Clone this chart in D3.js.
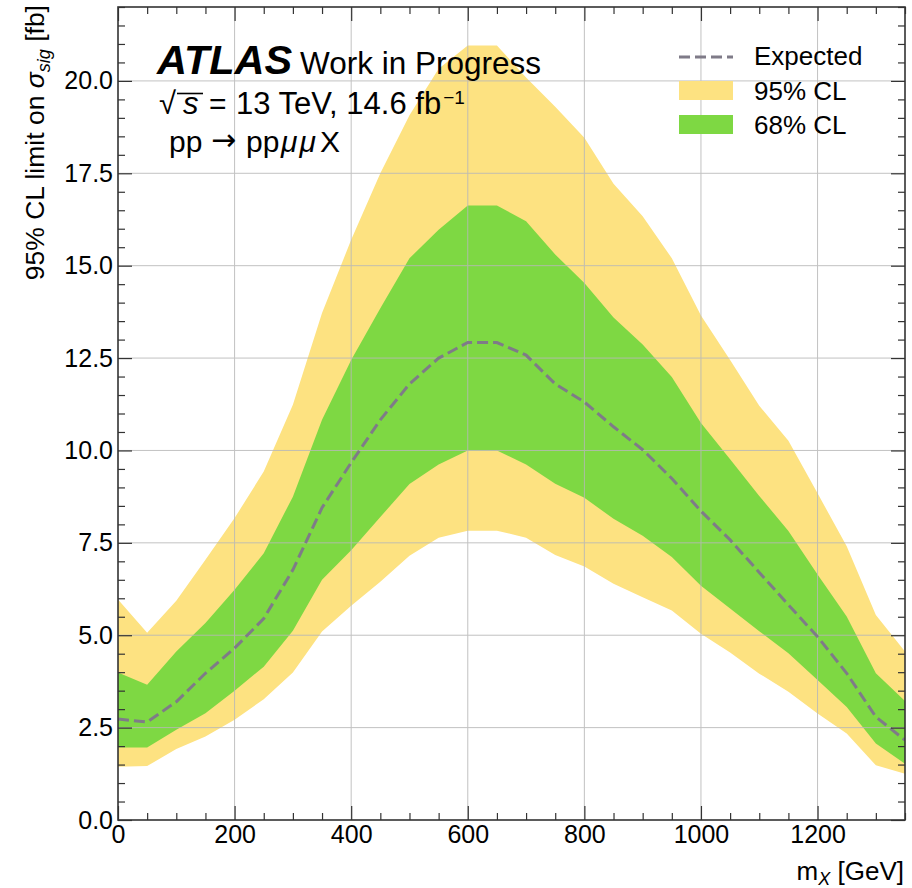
<!DOCTYPE html>
<html>
<head>
<meta charset="utf-8">
<script src="https://cdn.jsdelivr.net/npm/d3@7"></script>
<style>
  body { margin: 0; background: #fff; }
  text { font-family: "Liberation Sans", Arial, Helvetica, sans-serif; fill: #000; }
</style>
</head>
<body>
<div id="chart"></div>
<script>
// ── Data ──
const massX   = [0, 50, 100, 150, 200, 250, 300, 350, 400, 450, 500, 550, 600, 650, 700, 750, 800, 850, 900, 950, 1000, 1050, 1100, 1150, 1200, 1250, 1300, 1350];
const hi95    = [5.97, 5.07, 5.93, 7.04, 8.17, 9.43, 11.24, 13.72, 15.7, 17.5, 19.07, 20.33, 20.96, 20.96, 20.09, 19.3, 18.46, 17.22, 16.34, 15.2, 13.65, 12.45, 11.21, 10.26, 8.84, 7.41, 5.55, 4.56];
const hi68    = [3.99, 3.66, 4.56, 5.33, 6.23, 7.22, 8.75, 10.83, 12.45, 13.85, 15.2, 15.97, 16.63, 16.63, 16.2, 15.3, 14.53, 13.6, 12.87, 11.99, 10.74, 9.76, 8.77, 7.82, 6.64, 5.51, 3.97, 3.22];
const expected= [2.73, 2.65, 3.2, 3.97, 4.65, 5.45, 6.77, 8.45, 9.67, 10.83, 11.8, 12.5, 12.92, 12.92, 12.58, 11.8, 11.31, 10.64, 10.02, 9.24, 8.36, 7.58, 6.7, 5.82, 4.96, 3.97, 2.79, 2.16];
const lo68    = [1.96, 1.96, 2.44, 2.89, 3.5, 4.15, 5.12, 6.5, 7.3, 8.2, 9.09, 9.62, 10.0, 10.0, 9.62, 9.1, 8.72, 8.15, 7.69, 7.12, 6.34, 5.72, 5.11, 4.51, 3.79, 3.06, 2.07, 1.52];
const lo95    = [1.44, 1.46, 1.92, 2.26, 2.71, 3.27, 3.99, 5.1, 5.8, 6.45, 7.15, 7.64, 7.83, 7.83, 7.64, 7.17, 6.86, 6.39, 6.03, 5.67, 5.04, 4.53, 3.96, 3.47, 2.88, 2.34, 1.48, 1.25];

const xTicks = [0, 200, 400, 600, 800, 1000, 1200];
const yTicks = [0, 2.5, 5, 7.5, 10, 12.5, 15, 17.5, 20];
const legendLabels = ['Expected', '95% CL', '68% CL'];

// ── Layout ──
const W = 912, H = 888;
const M = { left: 118, right: 905, top: 7, bottom: 820 };

const colors = { y95: '#fde281', g68: '#7ed843', exp: '#7f7b88', grid: '#b8b8b8', axis: '#333' };

const svg = d3.select('#chart').append('svg')
  .attr('width', W).attr('height', H)
  .style('display', 'block');

const x = d3.scaleLinear().domain([0, 1350]).range([M.left, M.right]);
const y = d3.scaleLinear().domain([0, 22]).range([M.bottom, M.top]);

const pts = massX.map(function(m, i) {
  return { m: m, e: expected[i], l68: lo68[i], h68: hi68[i], l95: lo95[i], h95: hi95[i] };
});

svg.append('defs').append('clipPath').attr('id', 'plotclip')
  .append('rect').attr('x', M.left).attr('y', M.top)
  .attr('width', M.right - M.left).attr('height', M.bottom - M.top);

const plot = svg.append('g').attr('clip-path', 'url(#plotclip)');

// ── Bands ──
plot.append('path').datum(pts)
  .attr('fill', colors.y95)
  .attr('d', d3.area().x(function(d) { return x(d.m); })
    .y0(function(d) { return y(d.l95); }).y1(function(d) { return y(d.h95); }));

plot.append('path').datum(pts)
  .attr('fill', colors.g68)
  .attr('d', d3.area().x(function(d) { return x(d.m); })
    .y0(function(d) { return y(d.l68); }).y1(function(d) { return y(d.h68); }));

// ── Grid (drawn over the bands, as in the original) ──
const grid = plot.append('g').attr('stroke', colors.grid).attr('stroke-width', 1).attr('opacity', 0.85);
xTicks.filter(function(t) { return t > 0; }).forEach(function(t) {
  grid.append('line').attr('x1', x(t)).attr('x2', x(t)).attr('y1', M.top).attr('y2', M.bottom);
});
yTicks.filter(function(t) { return t > 0; }).forEach(function(t) {
  grid.append('line').attr('x1', M.left).attr('x2', M.right).attr('y1', y(t)).attr('y2', y(t));
});

// ── Expected line ──
plot.append('path').datum(pts)
  .attr('fill', 'none')
  .attr('stroke', colors.exp)
  .attr('stroke-width', 3)
  .attr('stroke-dasharray', '11,5')
  .attr('d', d3.line().x(function(d) { return x(d.m); }).y(function(d) { return y(d.e); }));

// ── Axes: inward ticks on all four sides ──
const xMinor = d3.range(0, 1351, 50).filter(function(v) { return v % 200 !== 0; });
const yMinor = d3.range(0, 22.01, 0.5).filter(function(v) { return Math.abs(v / 2.5 - Math.round(v / 2.5)) > 1e-6; });

function styleAxis(g) {
  g.select('.domain').remove();
  g.selectAll('.tick line').attr('stroke', colors.axis).attr('stroke-width', 1.2);
  g.selectAll('.tick text').style('font-family', '"Liberation Sans", Arial, sans-serif')
    .style('font-size', '25px').attr('fill', '#000');
}

svg.append('g').attr('transform', 'translate(0,' + M.bottom + ')')
  .call(d3.axisBottom(x).tickValues(xTicks).tickSize(-14).tickPadding(5).tickFormat(d3.format('d')))
  .call(styleAxis);
svg.append('g').attr('transform', 'translate(0,' + M.bottom + ')')
  .call(d3.axisBottom(x).tickValues(xMinor).tickSize(-7).tickFormat(''))
  .call(styleAxis);
svg.append('g').attr('transform', 'translate(0,' + M.top + ')')
  .call(d3.axisTop(x).tickValues(xTicks).tickSize(-14).tickFormat(''))
  .call(styleAxis);
svg.append('g').attr('transform', 'translate(0,' + M.top + ')')
  .call(d3.axisTop(x).tickValues(xMinor).tickSize(-7).tickFormat(''))
  .call(styleAxis);

svg.append('g').attr('transform', 'translate(' + M.left + ',0)')
  .call(d3.axisLeft(y).tickValues(yTicks).tickSize(-14).tickPadding(5).tickFormat(d3.format('.1f')))
  .call(styleAxis);
svg.append('g').attr('transform', 'translate(' + M.left + ',0)')
  .call(d3.axisLeft(y).tickValues(yMinor).tickSize(-7).tickFormat(''))
  .call(styleAxis);
svg.append('g').attr('transform', 'translate(' + M.right + ',0)')
  .call(d3.axisRight(y).tickValues(yTicks).tickSize(-14).tickFormat(''))
  .call(styleAxis);
svg.append('g').attr('transform', 'translate(' + M.right + ',0)')
  .call(d3.axisRight(y).tickValues(yMinor).tickSize(-7).tickFormat(''))
  .call(styleAxis);

// frame
svg.append('rect')
  .attr('x', M.left).attr('y', M.top)
  .attr('width', M.right - M.left).attr('height', M.bottom - M.top)
  .attr('fill', 'none').attr('stroke', colors.axis).attr('stroke-width', 1.6);

// ── Axis titles ──
const xt = svg.append('text')
  .attr('x', M.right - 1).attr('y', 880)
  .attr('text-anchor', 'end')
  .style('font-size', '26px');
xt.append('tspan').text('m');
xt.append('tspan').attr('dy', 5).style('font-size', '18px').style('font-style', 'italic').text('X');
xt.append('tspan').attr('dy', -5).text(' [GeV]');

const yt = svg.append('text')
  .attr('transform', 'translate(44,' + (M.top - 2) + ') rotate(-90)')
  .attr('text-anchor', 'end')
  .style('font-size', '26.5px');
yt.append('tspan').text('95% CL limit on ');
yt.append('tspan').style('font-style', 'italic').text('σ');
yt.append('tspan').attr('dy', 6).style('font-size', '18px').style('font-style', 'italic').text('sig');
yt.append('tspan').attr('dy', -6).text(' [fb]');

// ── ATLAS label block ──
svg.append('text')
  .attr('x', 157).attr('y', 74)
  .style('font-size', '41.5px').style('font-weight', 'bold').style('font-style', 'italic')
  .text('ATLAS');
svg.append('text')
  .attr('x', 300).attr('y', 74)
  .style('font-size', '31.5px')
  .text('Work in Progress');

// line 2: sqrt(s) = 13 TeV, 14.6 fb^-1
const l2 = svg.append('g');
l2.append('text').attr('x', 159).attr('y', 114)
  .style('font-size', '31px').text('√');
l2.append('line').attr('x1', 177).attr('x2', 203).attr('y1', 93.5).attr('y2', 93.5)
  .attr('stroke', '#000').attr('stroke-width', 1.6);
l2.append('text').attr('x', 183).attr('y', 113.5)
  .style('font-size', '31px').style('font-style', 'italic').text('s');
l2.append('text').attr('x', 209).attr('y', 113.5)
  .style('font-size', '30px').text('=');
const lumi = l2.append('text').attr('x', 236).attr('y', 113.5)
  .style('font-size', '31px').text('13 TeV, 14.6 fb');
const lumiEnd = 236 + lumi.node().getComputedTextLength();
l2.append('text').attr('x', lumiEnd + 2).attr('y', 103.5)
  .style('font-size', '19px').text('−1');

// line 3: pp -> pp mu mu X
svg.append('text').attr('x', 169).attr('y', 152).style('font-size', '30px').text('pp');
svg.append('text').attr('x', 211).attr('y', 150)
  .style('font-family', '"DejaVu Sans", sans-serif').style('font-size', '30px').text('→');
svg.append('text').attr('x', 246).attr('y', 152).style('font-size', '30px').text('pp');
svg.append('text').attr('x', 281).attr('y', 152).style('font-size', '30px')
  .style('font-style', 'italic').style('letter-spacing', '2px').text('μμ');
svg.append('text').attr('x', 320).attr('y', 152).style('font-size', '30px').text('X');

// ── Legend ──
const leg = svg.append('g');
leg.append('line')
  .attr('x1', 679).attr('x2', 733).attr('y1', 57).attr('y2', 57)
  .attr('stroke', colors.exp).attr('stroke-width', 3).attr('stroke-dasharray', '11,5');
leg.append('rect').attr('x', 679).attr('y', 81).attr('width', 54).attr('height', 19).attr('fill', colors.y95);
leg.append('rect').attr('x', 679).attr('y', 115).attr('width', 54).attr('height', 19).attr('fill', colors.g68);
legendLabels.forEach(function(lbl, i) {
  leg.append('text').attr('x', 754).attr('y', 65 + i * 34.5)
    .style('font-size', '26px').text(lbl);
});
</script>
</body>
</html>
